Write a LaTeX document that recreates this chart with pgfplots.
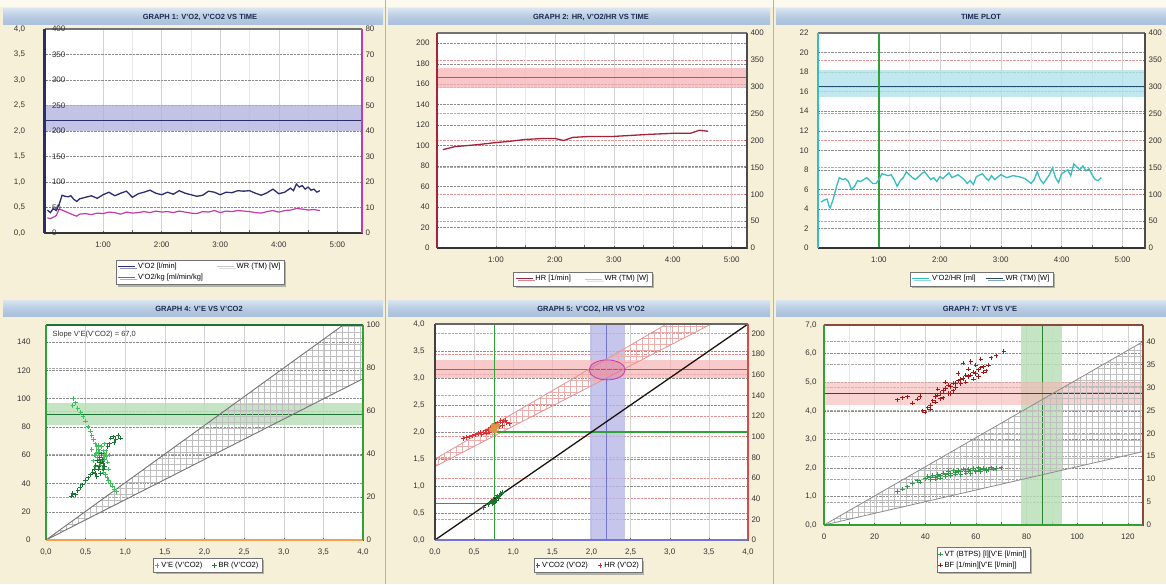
\documentclass[border=0pt]{standalone}
\usepackage{fontspec}
\setmainfont{Liberation Sans}
\usepackage{pgfplots}
\pgfplotsset{compat=1.18}
\usetikzlibrary{patterns.meta,shadows}
\definecolor{bg}{HTML}{F7F0D8}
\definecolor{tbtop}{HTML}{D6E2EF}
\definecolor{tbbot}{HTML}{A9C0DA}
\definecolor{ttext}{HTML}{1C2A52}
\definecolor{navy}{HTML}{2B2E6E}
\definecolor{mag}{HTML}{C23CA8}
\definecolor{bband}{HTML}{B0B0DE}
\definecolor{hrred}{HTML}{A3243A}
\definecolor{rband}{HTML}{F6B4B4}
\definecolor{rline}{HTML}{D84A4A}
\definecolor{cyc}{HTML}{36BDC4}
\definecolor{cband}{HTML}{B2E2EC}
\definecolor{tealx}{HTML}{1F4E6E}
\definecolor{gline}{HTML}{2EA236}
\definecolor{gband}{HTML}{B6DEB6}
\definecolor{dgreen}{HTML}{1C7432}
\definecolor{lgreen}{HTML}{3CC05A}
\definecolor{orng}{HTML}{F2A24A}
\definecolor{purp}{HTML}{7474CC}
\definecolor{pband}{HTML}{B8B8E8}
\definecolor{brn}{HTML}{8A4A3A}
\definecolor{dred}{HTML}{A01818}
\definecolor{sred}{HTML}{D83434}
\tikzset{ttl/.style={font=\bfseries\fontsize{7.5}{8}\selectfont, text=ttext}}
\pgfplotsset{
 base/.style={scale only axis, anchor=south west,
   tick label style={font=\fontsize{8}{9}\selectfont, text=black!80},
   /pgf/number format/assume math mode=true,
   major tick length=2pt, tick style={black!60, thin},
   axis line style={black!70}},
 commay/.style={yticklabel style={/pgf/number format/fixed, /pgf/number format/fixed zerofill, /pgf/number format/precision=1, /pgf/number format/use comma}},
 commax/.style={xticklabel style={/pgf/number format/fixed, /pgf/number format/fixed zerofill, /pgf/number format/precision=1, /pgf/number format/use comma}},
 rover/.style={base, axis x line=none, axis y line*=right, axis background/.style={fill=white}},
 mainax/.style={base, clip=false, tick pos=left, xmajorgrids, ymajorgrids,
   major x grid style={gray!35}, major y grid style={black!45, densely dotted},
   xticklabel style={yshift=-5pt}, legend cell align=left,
   legend style={font=\fontsize{7.5}{9}\selectfont, draw=black!55, fill=white, inner sep=1.5pt,
     drop shadow={shadow xshift=2pt, shadow yshift=-2pt, fill=black!55}}},
 scat/.style={only marks, mark=+, mark size=2.2pt, line width=1pt},
}
\newcommand{\spines}[4]{%
 \draw[#3, line width=2pt] (rel axis cs:0,0)--(rel axis cs:1,0);
 \draw[#4, line width=1.5pt] (rel axis cs:0,1)--(rel axis cs:1,1);
 \draw[#1, line width=2.5pt] (rel axis cs:0,0)--(rel axis cs:0,1);
 \draw[#2, line width=2.5pt] (rel axis cs:1,0)--(rel axis cs:1,1);}
\begin{document}
\begin{tikzpicture}[x=1pt,y=1pt]
\useasboundingbox (0,0) rectangle (1166,584);
\clip (0,0) rectangle (1166,584);
\fill[bg] (0,0) rectangle (1166,584);
\fill[white!60!bg] (0,577) rectangle (1166,584);
\foreach \a/\b in {3/383, 388/770, 776/1166} {
  \shade[top color=tbtop, bottom color=tbbot, middle color=tbbot!70!tbtop] (\a,559) rectangle (\b,575);
  \shade[top color=tbtop, bottom color=tbbot, middle color=tbbot!70!tbtop] (\a,267) rectangle (\b,283);}
\draw[black!30, line width=1.2pt] (385.5,0)--(385.5,584);
\draw[black!30, line width=1.2pt] (773.5,0)--(773.5,584);
\node[ttl] at (200,567) {GRAPH 1: V'O2, V'CO2 VS TIME};
\node[ttl] at (591,567) {GRAPH 2: HR, V'O2/HR VS TIME};
\node[ttl] at (981,567) {TIME PLOT};
\node[ttl] at (199,275) {GRAPH 4: V'E VS V'CO2};
\node[ttl] at (591,275) {GRAPH 5: V'CO2, HR VS V'O2};
\node[ttl] at (980,275) {GRAPH 7: VT VS V'E};

%%%%%%%%%%%%%%%% PANEL 1
\begin{axis}[rover, at={(44.5pt,351pt)}, width=317.5pt, height=204pt, xmin=0, xmax=5.42, ymin=0, ymax=80, ytick={0,10,...,80}]
\addplot[draw=none, forget plot] coordinates {(1,1)};
\end{axis}
\begin{axis}[mainax, at={(44.5pt,351pt)}, width=317.5pt, height=204pt, xmin=0, xmax=5.42, ymin=0, ymax=4,
  xtick={1,2,3,4,5}, xticklabels={1:00,2:00,3:00,4:00,5:00}, ytick={0,0.5,...,4}, commay, yticklabel style={xshift=-16pt},
  minor x tick num=1, xminorgrids, minor x grid style={gray!18},
  legend columns=2, legend style={at={(0.49,-0.13)}, anchor=north, /tikz/every even column/.append style={column sep=12pt}}]
\addplot[fill=bband, fill opacity=0.75, draw=none, forget plot] coordinates {(0,2.0) (5.42,2.0) (5.42,2.5) (0,2.5)};
\addplot[navy, line width=1pt, forget plot] coordinates {(0,2.2) (5.42,2.2)};
\addplot[navy, line width=1.3pt] coordinates {(0.05,0.45) (0.10,0.40) (0.15,0.48) (0.20,0.44) (0.25,0.56) (0.30,0.74) (0.35,0.72) (0.40,0.71) (0.45,0.73) (0.50,0.66) (0.55,0.62) (0.60,0.67) (0.70,0.70) (0.80,0.73) (0.90,0.68) (1.00,0.75) (1.10,0.80) (1.20,0.73) (1.30,0.78) (1.40,0.82) (1.50,0.70) (1.60,0.77) (1.70,0.80) (1.80,0.84) (1.90,0.78) (2.00,0.75) (2.10,0.80) (2.20,0.76) (2.30,0.83) (2.40,0.78) (2.50,0.75) (2.60,0.72) (2.70,0.74) (2.80,0.82) (2.90,0.80) (3.00,0.75) (3.10,0.80) (3.20,0.79) (3.30,0.83) (3.40,0.82) (3.50,0.83) (3.60,0.78) (3.70,0.74) (3.80,0.79) (3.90,0.86) (4.00,0.77) (4.10,0.80) (4.20,0.88) (4.25,0.83) (4.30,0.96) (4.35,0.90) (4.40,0.93) (4.45,0.86) (4.50,0.90) (4.55,0.84) (4.60,0.86) (4.65,0.80) (4.70,0.83)};
\addlegendentry{V'O2 [l/min]}
\addlegendimage{gray!45, line width=0.6pt}
\addlegendentry{WR (TM) [W]}
\addplot[mag, line width=1.2pt] coordinates {(0.05,0.30) (0.10,0.28) (0.15,0.31) (0.20,0.34) (0.25,0.47) (0.30,0.45) (0.40,0.40) (0.50,0.35) (0.55,0.33) (0.60,0.37) (0.70,0.38) (0.80,0.36) (0.90,0.39) (1.00,0.38) (1.10,0.41) (1.20,0.40) (1.30,0.37) (1.40,0.41) (1.50,0.39) (1.60,0.40) (1.70,0.42) (1.80,0.40) (1.90,0.43) (2.00,0.41) (2.10,0.42) (2.20,0.40) (2.30,0.43) (2.40,0.41) (2.50,0.39) (2.60,0.38) (2.70,0.42) (2.80,0.41) (2.90,0.44) (3.00,0.40) (3.10,0.43) (3.20,0.42) (3.30,0.44) (3.40,0.43) (3.50,0.42) (3.60,0.40) (3.70,0.39) (3.80,0.42) (3.90,0.44) (4.00,0.41) (4.10,0.44) (4.20,0.45) (4.30,0.48) (4.40,0.47) (4.50,0.45) (4.60,0.46) (4.70,0.44)};
\addlegendentry{V'O2/kg [ml/min/kg]}
\spines{navy}{mag}{black!80}{black!55}
\end{axis}
\begin{axis}[base, at={(44.5pt,351pt)}, width=317.5pt, height=204pt, xmin=0, xmax=5.42, ymin=0, ymax=400,
  axis x line=none, axis y line*=left, ytick={0,50,...,400}, yticklabel style={anchor=west, xshift=4pt}, axis line style={draw=none}, tick style={draw=none}]
\addplot[draw=none, forget plot] coordinates {(1,1)};
\end{axis}

%%%%%%%%%%%%%%%% PANEL 2
\begin{axis}[rover, at={(437pt,336pt)}, width=310pt, height=215pt, xmin=0, xmax=5.26, ymin=0, ymax=400, ytick={0,50,...,400},
  ymajorgrids, major y grid style={rline!60, densely dotted}]
\addplot[draw=none, forget plot] coordinates {(1,1)};
\end{axis}
\begin{axis}[mainax, at={(437pt,336pt)}, width=310pt, height=215pt, xmin=0, xmax=5.26, ymin=0, ymax=210,
  xtick={1,2,3,4,5}, xticklabels={1:00,2:00,3:00,4:00,5:00}, ytick={0,20,...,200}, yticklabel style={xshift=-4pt},
  minor x tick num=1, xminorgrids, minor x grid style={gray!18},
  legend columns=2, legend style={at={(0.47,-0.11)}, anchor=north, /tikz/every even column/.append style={column sep=12pt}}]
\addplot[fill=rband, fill opacity=0.75, draw=none, forget plot] coordinates {(0,156) (5.26,156) (5.26,176) (0,176)};
\addplot[rline, line width=1pt, forget plot] coordinates {(0,167) (5.26,167)};
\addplot[hrred, line width=1.3pt] coordinates {(0.10,96) (0.30,99) (0.50,100) (0.70,101) (1.00,103) (1.20,104) (1.50,106) (1.80,107) (2.00,107) (2.15,105) (2.30,108) (2.60,109) (3.00,109) (3.30,110) (3.60,111) (4.00,112) (4.30,112) (4.45,115) (4.60,114)};
\addlegendentry{HR [1/min]}
\addlegendimage{gray!45, line width=0.6pt}
\addlegendentry{WR (TM) [W]}
\spines{hrred}{black!70}{black!80}{black!55}
\end{axis}

%%%%%%%%%%%%%%%% PANEL 3
\begin{axis}[rover, at={(818pt,336pt)}, width=327pt, height=215pt, xmin=0, xmax=5.37, ymin=0, ymax=400, ytick={0,50,...,400},
  ymajorgrids, major y grid style={rline!60, densely dotted}]
\addplot[draw=none, forget plot] coordinates {(1,1)};
\end{axis}
\begin{axis}[mainax, at={(818pt,336pt)}, width=327pt, height=215pt, xmin=0, xmax=5.37, ymin=0, ymax=22,
  xtick={1,2,3,4,5}, xticklabels={1:00,2:00,3:00,4:00,5:00}, ytick={0,2,...,22}, yticklabel style={xshift=-6pt},
  minor x tick num=1, xminorgrids, minor x grid style={gray!18},
  legend columns=2, legend style={at={(0.5,-0.11)}, anchor=north, /tikz/every even column/.append style={column sep=8pt}}]
\addplot[fill=cband, fill opacity=0.8, draw=none, forget plot] coordinates {(0,15.4) (5.37,15.4) (5.37,18.2) (0,18.2)};
\addplot[tealx, line width=1.2pt, forget plot] coordinates {(0,16.5) (5.37,16.5)};
\addplot[gline, line width=1.5pt, forget plot] coordinates {(1.0,0) (1.0,22)};
\addplot[cyc, line width=1.3pt] coordinates {(0.05,4.7) (0.10,4.9) (0.15,5.0) (0.18,4.3) (0.20,4.1) (0.25,5.0) (0.30,6.2) (0.35,7.2) (0.40,7.0) (0.45,7.1) (0.50,6.8) (0.55,6.0) (0.60,6.3) (0.65,6.9) (0.70,6.8) (0.75,7.0) (0.80,7.2) (0.85,6.9) (0.90,6.6) (0.95,6.6) (1.00,7.0) (1.05,7.6) (1.10,7.5) (1.15,7.4) (1.20,7.5) (1.25,7.0) (1.30,6.3) (1.35,6.9) (1.40,7.2) (1.45,7.8) (1.50,7.5) (1.55,7.2) (1.60,7.0) (1.65,7.3) (1.70,7.6) (1.75,7.8) (1.80,7.4) (1.85,7.0) (1.90,7.2) (1.95,6.8) (2.00,7.3) (2.05,7.1) (2.10,7.4) (2.15,7.7) (2.20,7.2) (2.30,7.5) (2.40,7.0) (2.45,6.6) (2.50,6.9) (2.55,6.5) (2.60,7.3) (2.70,7.6) (2.75,7.2) (2.80,6.9) (2.85,7.4) (2.90,7.0) (3.00,7.5) (3.10,7.2) (3.20,7.4) (3.30,7.3) (3.40,7.1) (3.50,6.6) (3.55,7.0) (3.60,7.8) (3.65,7.0) (3.70,6.6) (3.80,7.5) (3.85,8.2) (3.90,7.2) (3.95,6.7) (4.00,7.6) (4.10,8.0) (4.15,7.4) (4.20,8.6) (4.25,8.3) (4.30,8.0) (4.35,8.4) (4.40,7.9) (4.45,8.1) (4.50,7.5) (4.55,7.0) (4.60,6.9) (4.65,7.2)};
\addlegendentry{V'O2/HR [ml]}
\addlegendimage{tealx, line width=0.8pt}
\addlegendentry{WR (TM) [W]}
\spines{cyc}{black!70}{black!80}{black!55}
\end{axis}

%%%%%%%%%%%%%%%% PANEL 4
\begin{axis}[rover, at={(46pt,44pt)}, width=317pt, height=215pt, xmin=0, xmax=4, ymin=0, ymax=100, ytick={0,20,...,100},
  ymajorgrids, major y grid style={black!35, densely dotted}]
\addplot[draw=none, forget plot] coordinates {(1,1)};
\end{axis}
\begin{axis}[mainax, at={(46pt,44pt)}, width=317pt, height=215pt, xmin=0, xmax=4, ymin=0, ymax=152,
  xtick={0,0.5,...,4}, commax, ytick={0,20,...,140}, yticklabel style={xshift=-12pt},
  legend columns=2, legend style={at={(0.51,-0.085)}, anchor=north, /tikz/every even column/.append style={column sep=8pt}}]
\addplot[fill=gband, fill opacity=0.8, draw=none, forget plot] coordinates {(0,81) (4,81) (4,97) (0,97)};
\addplot[dgreen, line width=1.2pt, forget plot] coordinates {(0,89) (4,89)};
\addplot[pattern={Hatch[distance=6pt, angle=0, line width=0.3pt]}, pattern color=gray!50, draw=none, forget plot] coordinates {(0,0) (3.75,152) (4,152) (4,114)};
\addplot[black!55, line width=0.9pt, forget plot] coordinates {(0,0) (3.75,152)};
\addplot[black!55, line width=0.9pt, forget plot] coordinates {(0,0) (4,114)};
\addplot[scat, lgreen] coordinates {(0.35,100) (0.37,97) (0.34,95) (0.40,93) (0.44,90) (0.47,87) (0.50,84) (0.53,80) (0.56,77) (0.58,74) (0.60,71) (0.62,68) (0.64,66) (0.66,64) (0.68,62) (0.70,60) (0.72,58) (0.74,57) (0.63,60) (0.65,58) (0.67,55) (0.69,53) (0.71,50) (0.73,48) (0.75,46) (0.77,44) (0.79,42) (0.82,40) (0.84,38) (0.86,36) (0.89,34) (0.78,55) (0.80,60) (0.76,63) (0.62,52) (0.60,56) (0.70,66) (0.74,68) (0.58,64) (0.66,61) (0.72,63) (0.76,59) (0.68,57) (0.64,62) (0.70,56) (0.74,61) (0.66,67) (0.79,50) (0.61,60)};
\addlegendentry{V'E (V'CO2)}
\addplot[scat, dgreen] coordinates {(0.32,31) (0.34,33) (0.37,32) (0.40,35) (0.43,37) (0.46,39) (0.50,42) (0.53,44) (0.56,46) (0.59,48) (0.61,50) (0.63,53) (0.65,56) (0.68,58) (0.70,61) (0.66,50) (0.72,54) (0.74,52) (0.69,47) (0.64,45) (0.82,72) (0.85,73) (0.88,71) (0.91,74) (0.94,72) (0.86,69) (0.78,66) (0.80,68) (0.67,52) (0.71,57) (0.62,47) (0.69,55) (0.73,50)};
\addlegendentry{BR (V'CO2)}
\node[anchor=north west, font=\fontsize{7.5}{9}\selectfont, text=black!80] at (rel axis cs:0.01,0.99) {Slope V'E(V'CO2) = 67,0};
\spines{gline}{gline}{orng}{dgreen}
\end{axis}

%%%%%%%%%%%%%%%% PANEL 5
\begin{axis}[rover, at={(435pt,44pt)}, width=313pt, height=216pt, xmin=0, xmax=4, ymin=0, ymax=209, ytick={0,20,...,200},
  ymajorgrids, major y grid style={rline!60, densely dotted}]
\addplot[draw=none, forget plot] coordinates {(1,1)};
\end{axis}
\begin{axis}[mainax, at={(435pt,44pt)}, width=313pt, height=216pt, xmin=0, xmax=4, ymin=0, ymax=4,
  xtick={0,0.5,...,4}, commax, ytick={0,0.5,...,4}, commay, yticklabel style={xshift=-7pt},
  legend columns=2, legend style={at={(0.49,-0.085)}, anchor=north, /tikz/every even column/.append style={column sep=8pt}}]
\addplot[fill=pband, fill opacity=0.8, draw=none, forget plot] coordinates {(1.98,0) (2.43,0) (2.43,4) (1.98,4)};
\addplot[purp, line width=1.2pt, forget plot] coordinates {(2.19,0) (2.19,4)};
\addplot[fill=rband, fill opacity=0.7, draw=none, forget plot] coordinates {(0,3.0) (4,3.0) (4,3.34) (0,3.34)};
\addplot[rline, line width=1pt, forget plot] coordinates {(0,3.15) (4,3.15)};
\addplot[pattern={Hatch[distance=6pt, angle=0, line width=0.3pt]}, pattern color=rline!45, draw=none, forget plot] coordinates {(0,1.36) (3.53,4) (2.96,4) (0,1.5)};
\addplot[rline!60, line width=0.8pt, forget plot] coordinates {(0,1.36) (3.53,4)};
\addplot[rline!60, line width=0.8pt, forget plot] coordinates {(0,1.5) (2.96,4)};
\addplot[gline, line width=1.2pt, forget plot] coordinates {(0.76,0) (0.76,4)};
\addplot[gline, line width=1.2pt, forget plot] coordinates {(0.76,2.0) (4,2.0)};
\addplot[gline, line width=1.2pt, forget plot] coordinates {(0,0.68) (0.76,0.68)};
\addplot[black!85!brown, line width=1.3pt, forget plot] coordinates {(0,0) (4,4)};
\draw[mag, fill=mag, fill opacity=0.2, line width=0.8pt] (axis cs:2.2,3.15) ellipse (18pt and 10pt);
\addplot[scat, dgreen] coordinates {(0.68,0.66) (0.70,0.68) (0.72,0.72) (0.74,0.70) (0.75,0.75) (0.76,0.72) (0.78,0.78) (0.79,0.74) (0.80,0.82) (0.82,0.80) (0.84,0.86) (0.73,0.67) (0.77,0.70) (0.81,0.77) (0.86,0.88) (0.71,0.70) (0.75,0.68) (0.78,0.73) (0.83,0.83) (0.62,0.60)};
\addlegendentry{V'CO2 (V'O2)}
\addplot[scat, sred] coordinates {(0.36,1.88) (0.40,1.90) (0.44,1.91) (0.48,1.93) (0.52,1.95) (0.55,1.97) (0.58,1.99) (0.62,2.0) (0.65,2.02) (0.68,2.05) (0.71,2.08) (0.74,2.12) (0.77,2.15) (0.80,2.17) (0.84,2.18) (0.88,2.2) (0.92,2.17) (0.95,2.15) (0.70,2.0) (0.75,2.03) (0.82,2.1) (0.86,2.12) (0.60,1.95) (0.66,1.98) (0.78,2.08) (0.90,2.22) (0.84,2.22)};
\addlegendentry{HR (V'O2)}
\addplot[only marks, mark=*, mark size=2.2pt, color=orng!60!brown, forget plot] coordinates {(0.72,2.04) (0.75,2.07) (0.78,2.1) (0.74,2.12) (0.77,2.02) (0.80,2.12)};
\spines{black!75}{rline}{purp}{black!60}
\end{axis}

%%%%%%%%%%%%%%%% PANEL 6
\begin{axis}[rover, at={(824pt,59pt)}, width=319pt, height=200pt, xmin=0, xmax=126, ymin=0, ymax=43.6, ytick={0,5,...,40},
  ymajorgrids, major y grid style={black!35, densely dotted}]
\addplot[draw=none, forget plot] coordinates {(1,1)};
\end{axis}
\begin{axis}[mainax, at={(824pt,59pt)}, width=319pt, height=200pt, xmin=0, xmax=126, ymin=0, ymax=7,
  xtick={0,20,...,120}, ytick={0,1,...,7}, commay, yticklabel style={xshift=-4pt},
  minor x tick num=1, xminorgrids, minor x grid style={gray!18},
  legend columns=1, legend style={at={(0.5,-0.11)}, anchor=north}]
\addplot[fill=gband, fill opacity=0.8, draw=none, forget plot] coordinates {(78,0) (94,0) (94,7) (78,7)};
\addplot[gline!80!black, line width=1.2pt, forget plot] coordinates {(86.4,0) (86.4,7)};
\addplot[fill=rband, fill opacity=0.6, draw=none, forget plot] coordinates {(0,4.2) (126,4.2) (126,5.0) (0,5.0)};
\addplot[dred, line width=1pt, forget plot] coordinates {(0,4.6) (126,4.6)};
\addplot[pattern={Hatch[distance=6pt, angle=0, line width=0.3pt]}, pattern color=gray!50, draw=none, forget plot] coordinates {(0,0) (126,6.42) (126,2.57)};
\addplot[black!45, line width=0.8pt, forget plot] coordinates {(0,0) (126,6.42)};
\addplot[black!45, line width=0.8pt, forget plot] coordinates {(0,0) (126,2.57)};
\addplot[scat, lgreen!80!black] coordinates {(29,1.17) (31,1.25) (33,1.34) (35,1.45) (37,1.55) (38,1.5) (40,1.62) (41,1.7) (42,1.65) (43,1.75) (44,1.68) (45,1.78) (46,1.72) (47,1.82) (48,1.76) (49,1.87) (50,1.8) (51,1.9) (52,1.84) (53,1.92) (54,1.86) (55,1.95) (56,1.88) (57,1.96) (58,1.9) (59,1.98) (60,1.92) (61,2.0) (62,1.94) (63,1.98) (64,1.96) (66,2.0) (68,1.98) (70,2.0) (44,1.6) (48,1.7) (52,1.78) (56,1.82) (60,1.86) (64,1.9) (42,1.58) (46,1.64) (50,1.72) (54,1.76) (58,1.8) (62,1.86) (45,1.7) (49,1.8) (53,1.86) (57,1.88) (61,1.92) (65,1.94) (67,1.96)};
\addlegendentry{VT (BTPS) [l][V'E [l/min]]}
\addplot[scat, dred] coordinates {(29,4.38) (31,4.45) (33,4.49) (35,4.26) (37,4.4) (39,4.0) (40,3.95) (41,4.1) (42,4.2) (43,4.35) (44,4.5) (45,4.55) (46,4.42) (47,4.7) (48,4.78) (49,4.6) (50,4.85) (51,4.96) (52,4.8) (53,5.05) (54,5.1) (55,5.13) (56,5.0) (57,5.2) (58,5.25) (59,5.35) (60,5.3) (61,5.43) (62,5.5) (63,5.54) (64,5.4) (65,5.6) (47,4.45) (50,4.6) (52,4.95) (44,4.3) (55,5.66) (58,5.72) (62,5.8) (66,5.85) (68,5.92) (71,6.07) (60,5.6) (53,5.3) (45,4.75) (48,5.0) (38,4.5) (46,4.6) (49,4.9) (51,4.7) (54,4.95) (56,5.25) (59,5.1) (61,5.2) (63,5.35) (57,5.45) (42,4.05)};
\addlegendentry{BF [1/min][V'E [l/min]]}
\spines{gline}{brn}{gline}{brn}
\end{axis}
\end{tikzpicture}
\end{document}
